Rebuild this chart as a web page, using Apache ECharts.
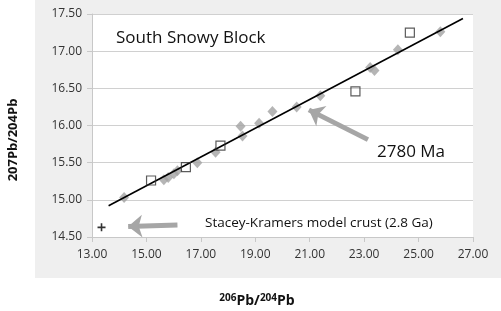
<!DOCTYPE html>
<html>
<head>
<meta charset="utf-8">
<script src="https://cdn.jsdelivr.net/npm/echarts@6/dist/echarts.min.js"></script>
<style>
  html, body { margin: 0; padding: 0; background: #fff; }
  #chart { width: 501px; height: 311px; }
</style>
</head>
<body>
<div id="chart"></div>
<script>
// 206Pb/204Pb vs 207Pb/204Pb, South Snowy Block
const diamondX = [14.18, 15.64, 15.80, 16.01, 16.14, 16.87, 17.54, 18.46, 18.53, 19.14, 19.63, 20.52, 21.39, 23.22, 23.38, 24.24, 25.80];
const diamondY = [15.03, 15.27, 15.30, 15.35, 15.39, 15.50, 15.64, 15.99, 15.86, 16.03, 16.19, 16.25, 16.40, 16.78, 16.74, 17.02, 17.26];
const squareX = [15.17, 16.45, 17.72, 22.68, 24.68];
const squareY = [15.26, 15.44, 15.73, 16.46, 17.25];
// isochron (2780 Ma) end points
const isoX = [13.61, 26.63];
const isoY = [14.92, 17.44];
// Stacey-Kramers model crust (2.8 Ga)
const skX = [13.35];
const skY = [14.63];
// annotation arrows [from, to]
const arrowIso = [[23.14, 15.81], [20.97, 16.21]];
const arrowSK = [[16.14, 14.66], [14.33, 14.64]];

const font = '"Open Sans", "Noto Sans", sans-serif';
const chart = echarts.init(document.getElementById('chart'));

const zip = (xs, ys) => xs.map((x, i) => [x, ys[i]]);

const option = {
    animation: false,
    textStyle: { fontFamily: font },
    graphic: [
        {
            type: 'rect', z: -10, silent: true,
            shape: { x: 35, y: 0, width: 466, height: 278 },
            style: { fill: '#EFEFEF' }
        },
        {
            type: 'text', left: 116, top: 30, z: 10,
            style: { text: 'South Snowy Block', font: '17px ' + font, fill: '#111' }
        },
        {
            type: 'text', left: 377, top: 144, z: 10,
            style: { text: '2780 Ma', font: '17px ' + font, fill: '#111' }
        },
        {
            type: 'text', left: 205, top: 216, z: 10,
            style: { text: 'Stacey-Kramers model crust (2.8 Ga)', font: '13.5px ' + font, fill: '#111' }
        },
        {
            type: 'text', z: 10,
            x: 13, y: 140, rotation: Math.PI / 2,
            style: {
                text: '207Pb/204Pb', font: 'bold 13px ' + font, fill: '#111',
                align: 'center', verticalAlign: 'middle'
            }
        },
        {
            type: 'text', z: 10, x: 257, y: 301,
            style: {
                text: '{s|206}{n|Pb/}{s|204}{n|Pb}',
                align: 'center', verticalAlign: 'middle',
                rich: {
                    s: { font: 'bold 10px ' + font, fill: '#111', verticalAlign: 'top', padding: [0, 0, 6, 0] },
                    n: { font: 'bold 14px ' + font, fill: '#111' }
                }
            }
        }
    ],
    grid: {
        left: 92, right: 28, top: 14, bottom: 74,
        show: true, backgroundColor: '#fff', borderWidth: 0
    },
    xAxis: {
        type: 'value', min: 13, max: 27, interval: 2,
        axisLine: { show: true, onZero: false, lineStyle: { color: '#C8C8C8' } },
        axisTick: { show: true, length: 5, lineStyle: { color: '#C8C8C8' } },
        axisLabel: { color: '#333', fontSize: 12, margin: 12, formatter: v => v.toFixed(2) },
        splitLine: { show: false }
    },
    yAxis: {
        type: 'value', min: 14.5, max: 17.5, interval: 0.5,
        axisLine: { show: true, onZero: false, lineStyle: { color: '#C8C8C8' } },
        axisTick: { show: true, length: 5, lineStyle: { color: '#C8C8C8' } },
        axisLabel: { color: '#333', fontSize: 12, margin: 10, formatter: v => v.toFixed(2) },
        splitLine: { show: true, lineStyle: { color: '#D0D0D0', width: 1 } }
    },
    series: [
        {
            type: 'scatter', name: 'diamonds',
            data: zip(diamondX, diamondY),
            symbol: 'diamond', symbolSize: [10, 11],
            itemStyle: { color: '#A3A3A3' },
            z: 2
        },
        {
            type: 'line', name: 'isochron',
            data: zip(isoX, isoY),
            showSymbol: false, symbol: 'none',
            lineStyle: { color: '#000', width: 1.6 },
            z: 3,
            markLine: {
                silent: true, symbol: ['none', 'arrow'], symbolSize: [17, 14],
                label: { show: false },
                lineStyle: { color: '#A6A6A6', width: 5, type: 'solid', opacity: 1 },
                data: [
                    [{ coord: arrowIso[0] }, { coord: arrowIso[1] }],
                    [{ coord: arrowSK[0] }, { coord: arrowSK[1] }]
                ]
            }
        },
        {
            type: 'scatter', name: 'squares',
            data: zip(squareX, squareY),
            symbol: 'rect', symbolSize: 9,
            itemStyle: { color: 'rgba(255,255,255,0)', borderColor: '#333', borderWidth: 1.2 },
            z: 4
        },
        {
            type: 'scatter', name: 'Stacey-Kramers',
            data: zip(skX, skY),
            symbol: 'path://M4,0h2v4h4v2h-4v4h-2v-4h-4v-2h4z', symbolSize: 8,
            itemStyle: { color: '#000' },
            z: 4
        }
    ]
};
chart.setOption(option);
</script>
</body>
</html>
